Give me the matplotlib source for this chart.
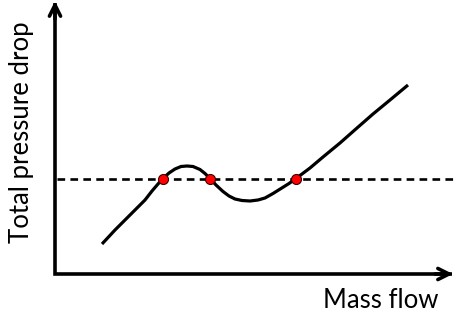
import matplotlib.pyplot as plt

# mass flow vs total pressure drop, read along the characteristic
mass_flow = [47, 60, 73, 82, 90, 97, 103, 108, 114, 120, 126, 132, 138, 145, 150, 155,
             161, 168, 174, 180, 187, 195, 203, 210, 218, 226, 234, 241,
             255, 268, 285, 302, 318, 335, 353]
pressure_drop = [30, 44, 57, 66, 74, 83, 90, 95.5, 101, 105, 107.5, 108, 107.5, 104.5, 100.5, 95.5,
                 89, 82.5, 78, 75, 73.5, 73, 74, 76, 80.5, 85.5, 90.5, 95.5,
                 106, 117, 131, 146, 160, 174, 189]

# operating level and the three intersections with it
level = 95.5
op_flow = [108, 155, 241]
op_drop = [95.5, 95.5, 95.5]

W, H = 455, 321
fig = plt.figure(figsize=(W / 100, H / 100), dpi=100)
ax = fig.add_axes([55 / W, 47 / H, 400 / W, 274 / H])
ax.set_xlim(0, 400)
ax.set_ylim(0, 274)
ax.axis('off')

# axes with arrow heads
ax.plot([0, 0, 397], [271, 0, 0], color='black', lw=2.6,
        solid_joinstyle='miter', solid_capstyle='butt', clip_on=False)
ax.annotate('', xy=(0, 273), xytext=(0, 255),
            arrowprops=dict(arrowstyle='->', lw=2.6, color='black',
                            mutation_scale=20, shrinkA=0, shrinkB=0),
            annotation_clip=False)
ax.annotate('', xy=(398, 0), xytext=(380, 0),
            arrowprops=dict(arrowstyle='->', lw=2.6, color='black',
                            mutation_scale=20, shrinkA=0, shrinkB=0),
            annotation_clip=False)

ax.plot([2, 400], [level, level], color='black', lw=1.9,
        dashes=(2.9, 2.0), clip_on=False)
ax.plot(mass_flow, pressure_drop, color='black', lw=2.3,
        solid_joinstyle='round', solid_capstyle='butt')
ax.plot(op_flow, op_drop, 'o', color='#ff0000', ms=7.2,
        mec='#3a0000', mew=0.8, zorder=5)

fig.text(22 / W, 1 - 132 / H, 'Total pressure drop', rotation=90,
         ha='center', va='center', fontsize=18.5, family='Lato')
fig.text(381 / W, 1 - 300 / H, 'Mass flow', ha='center', va='center',
         fontsize=18.5, family='Lato')

fig.savefig('out.png', dpi=100)
